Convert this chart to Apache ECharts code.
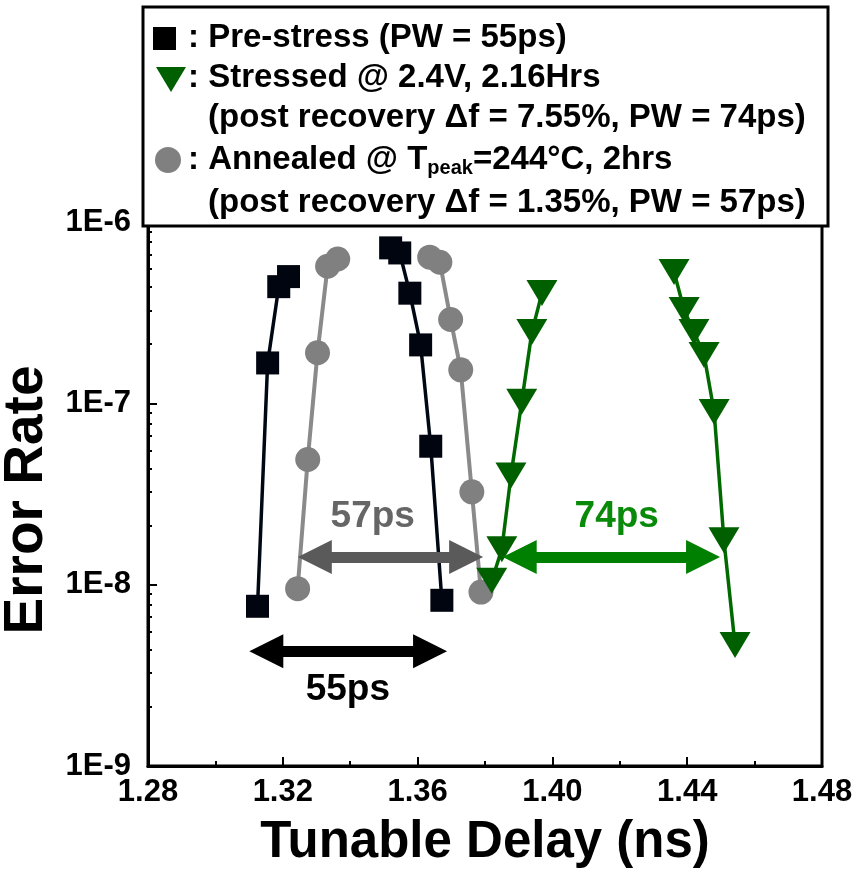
<!DOCTYPE html>
<html>
<head>
<meta charset="utf-8">
<script src="https://cdn.jsdelivr.net/npm/echarts@6/dist/echarts.min.js"></script>
<style>
    html, body {margin:0;padding:0;background:#fff;}
    #chart {width:860px;height:890px;}
</style>
</head>
<body>
<div id="chart"></div>
<script>
    // tunable delay (ns) vs error rate, each curve has a left and right branch
    var preLeft = [[1.3125, 7.6e-9], [1.3155, 1.67e-7], [1.3188, 4.4e-7], [1.3217, 5.0e-7]];
    var preRight = [[1.3520, 7.2e-7], [1.3547, 6.75e-7], [1.3577, 4.05e-7], [1.3609, 2.1e-7], [1.3639, 5.8e-8], [1.3672, 8.2e-9]];
    var annLeft = [[1.3244, 9.5e-9], [1.3274, 4.9e-8], [1.3303, 1.9e-7], [1.3333, 5.7e-7], [1.3363, 6.25e-7]];
    var annRight = [[1.3636, 6.4e-7], [1.3666, 6.0e-7], [1.3698, 2.9e-7], [1.3728, 1.53e-7], [1.3761, 3.25e-8], [1.3788, 9.1e-9]];
    var strLeft = [[1.3820, 1.05e-8], [1.3850, 1.57e-8], [1.3877, 4.0e-8], [1.3909, 1.02e-7], [1.3939, 2.47e-7], [1.3969, 4.06e-7]];
    var strRight = [[1.4361, 5.3e-7], [1.4391, 3.27e-7], [1.4420, 2.47e-7], [1.4450, 1.85e-7], [1.4480, 8.95e-8], [1.4509, 1.76e-8], [1.4542, 4.65e-9]];

    var thresholdRate = 1e-8;
    // pulse width arrows (tip to tip): [x start, x end, error rate, label, label x, label rate]
    var pwArrows = [
        [1.3101, 1.3687, 4.3e-9, '55ps', 1.3393, 2.62e-9],
        [1.3245, 1.3794, 1.42e-8, '57ps', 1.3467, 2.36e-8],
        [1.3853, 1.4497, 1.42e-8, '74ps', 1.4191, 2.36e-8]
    ];
    var arrowColors = ['#000000', '#5a5a5a', '#008000'];
    var labelColors = ['#000000', '#666666', '#0a8a0a'];
    var headInset = 0.005; // arrow head is centred on the end point, pull it in so the tip lands there

    var FONT = '"Liberation Sans", Arial, sans-serif';
    var chart = echarts.init(document.getElementById('chart'), null, {renderer: 'canvas'});

    function branch(data, color, lineColor, symbol, size, rotate, lw) {
        return {
            type: 'line',
            data: data,
            symbol: symbol,
            symbolSize: size,
            symbolRotate: rotate,
            showSymbol: true,
            animation: false,
            lineStyle: {color: lineColor, width: lw},
            itemStyle: {color: color, opacity: 1}
        };
    }

    var arrowLines = [];
    var arrowTexts = [];
    pwArrows.forEach(function (a, i) {
        arrowLines.push([
            {coord: [a[0] + headInset, a[2]], symbol: 'triangle', lineStyle: {color: arrowColors[i], width: 11, type: 'solid'}},
            {coord: [a[1] - headInset, a[2]], symbol: 'triangle'}
        ]);
        arrowTexts.push({
            name: a[3], coord: [a[4], a[5]],
            label: {color: labelColors[i]}
        });
    });
    arrowLines.push({yAxis: thresholdRate, symbol: 'none', lineStyle: {color: '#000', width: 3, type: [7, 5]}});

    var option = {
        animation: false,
        grid: {left: 148, right: 38, top: 222, bottom: 124, outerBoundsMode: 'none',
            show: true, borderColor: '#000', borderWidth: 3},
        xAxis: {
            type: 'value', min: 1.28, max: 1.48, interval: 0.04,
            name: 'Tunable Delay (ns)', nameLocation: 'middle', nameGap: 51,
            nameTextStyle: {fontFamily: FONT, fontWeight: 'bold', fontSize: 51, color: '#000'},
            axisLine: {lineStyle: {color: '#000', width: 3}},
            axisTick: {inside: true, length: 9, lineStyle: {color: '#000', width: 2}},
            minorTick: {show: true, splitNumber: 2, length: 5, lineStyle: {color: '#000', width: 2}},
            splitLine: {show: false},
            axisLabel: {fontFamily: FONT, fontWeight: 'bold', fontSize: 31, color: '#000', margin: 11,
                formatter: function (v) { return v.toFixed(2); }}
        },
        yAxis: {
            type: 'log', logBase: 10, min: 1e-9, max: 1e-6,
            name: 'Error Rate', nameLocation: 'middle', nameGap: 79, nameRotate: 90,
            nameTextStyle: {fontFamily: FONT, fontWeight: 'bold', fontSize: 55, color: '#000', padding: [0, 12, 0, 0]},
            axisLine: {lineStyle: {color: '#000', width: 3}},
            axisTick: {inside: true, length: 9, lineStyle: {color: '#000', width: 2}},
            minorTick: {show: true, splitNumber: 8, length: 4, lineStyle: {color: '#000', width: 2}},
            splitLine: {show: false},
            axisLabel: {fontFamily: FONT, fontWeight: 'bold', fontSize: 31, color: '#000', margin: 17,
                formatter: function (v) { return '1E' + Math.round(Math.log10(v)); }}
        },
        series: [
            {
                type: 'line', data: [], silent: true, z: 1,
                markLine: {silent: true, animation: false, label: {show: false},
                    symbolSize: [34, 34], data: arrowLines},
                markPoint: {
                    silent: true, animation: false, symbol: 'circle', symbolSize: 0,
                    label: {show: true, formatter: '{b}', fontFamily: FONT, fontWeight: 'bold', fontSize: 37},
                    data: arrowTexts
                }
            },
            branch(annLeft, '#808080', '#8a8a8a', 'circle', 25, 0, 4),
            branch(annRight, '#808080', '#8a8a8a', 'circle', 25, 0, 4),
            branch(preLeft, '#000510', '#000814', 'rect', 23, 0, 3.5),
            branch(preRight, '#000510', '#000814', 'rect', 23, 0, 3.5),
            branch(strLeft, '#006000', '#006a00', 'triangle', [31, 26], 180, 3.5),
            branch(strRight, '#006000', '#006a00', 'triangle', [31, 26], 180, 3.5)
        ],
        graphic: [
            {type: 'rect', shape: {x: 143, y: 7, width: 685, height: 219}, z: 100,
                style: {fill: '#fff', stroke: '#000', lineWidth: 3}},
            {type: 'rect', shape: {x: 153, y: 27, width: 23, height: 23}, z: 101, style: {fill: '#000'}},
            {type: 'polygon', shape: {points: [[156, 67], [186, 67], [171, 92]]}, z: 101, style: {fill: '#006000'}},
            {type: 'circle', shape: {cx: 168, cy: 160, r: 13}, z: 101, style: {fill: '#808080'}},
            {type: 'text', x: 188, y: 38, z: 101, style: {text: ': Pre-stress (PW = 55ps)', font: 'bold 33px ' + FONT, fill: '#000', verticalAlign: 'middle'}},
            {type: 'text', x: 188, y: 78, z: 101, style: {text: ': Stressed @ 2.4V, 2.16Hrs', font: 'bold 33px ' + FONT, fill: '#000', verticalAlign: 'middle'}},
            {type: 'text', x: 208, y: 118, z: 101, style: {text: '(post recovery \u0394f = 7.55%, PW = 74ps)', font: 'bold 33px ' + FONT, fill: '#000', verticalAlign: 'middle'}},
            {type: 'text', x: 188, y: 160, z: 101, style: {
                text: '{a|: Annealed @ T}{s|peak}{a|=244\u00b0C, 2hrs}',
                verticalAlign: 'middle',
                rich: {
                    a: {font: 'bold 33px ' + FONT, fill: '#000', color: '#000'},
                    s: {font: 'bold 20px ' + FONT, color: '#000', padding: [16, 0, 0, 0]}
                }
            }},
            {type: 'text', x: 208, y: 203, z: 101, style: {text: '(post recovery \u0394f = 1.35%, PW = 57ps)', font: 'bold 33px ' + FONT, fill: '#000', verticalAlign: 'middle'}}
        ]
    };
    chart.setOption(option);
    window.onresize = function () {
        chart.resize();
    };
</script>
</body>
</html>
